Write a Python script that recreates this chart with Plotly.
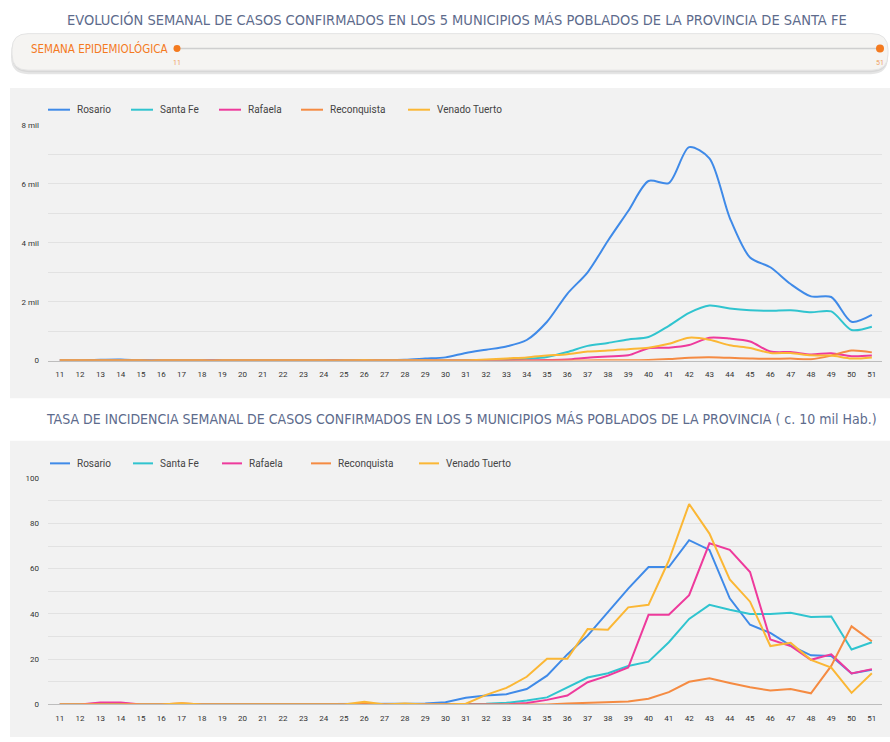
import plotly.graph_objects as go

W, H = 890, 742

weeks = list(range(11, 52))
series_names = ["Rosario", "Santa Fe", "Rafaela", "Reconquista", "Venado Tuerto"]
series_colors = ["#3f8ae8", "#30c4cf", "#ee3a9c", "#f58b42", "#fbb735"]

# Weekly confirmed cases (weeks 11..51)
cases_rosario = [0, 5, 30, 40, 10, 5, 5, 5, 3, 3, 3, 3, 3, 5, 5, 10, 15, 30, 70, 110,
                 260, 370, 480, 700, 1320, 2270, 3000, 4070, 5080, 6100, 6030, 7250,
                 6870, 4850, 3500, 3170, 2600, 2180, 2160, 1320, 1550]
cases_santafe = [0, 0, 2, 2, 0, 0, 0, 0, 0, 0, 0, 0, 0, 0, 0, 0, 0, 2, 3, 5,
                 10, 15, 25, 60, 120, 290, 500, 600, 720, 800, 1180, 1620,
                 1870, 1770, 1710, 1690, 1710, 1640, 1670, 1040, 1150]
cases_rafaela = [0, 0, 5, 5, 0, 0, 0, 0, 0, 0, 0, 0, 0, 0, 0, 0, 0, 0, 0, 0,
                 0, 0, 0, 5, 20, 40, 100, 140, 180, 420, 440, 530,
                 780, 750, 650, 310, 290, 210, 250, 150, 170]
cases_reconquista = [0, 0, 0, 0, 0, 0, 5, 0, 0, 0, 0, 0, 0, 0, 0, 0, 0, 0, 0, 0,
                     0, 0, 0, 0, 0, 5, 7, 13, 13, 25, 55, 100,
                     115, 95, 75, 60, 68, 50, 170, 345, 280]
cases_venado = [0, 0, 0, 0, 0, 0, 3, 0, 0, 0, 0, 0, 0, 0, 0, 10, 0, 3, 0, 0,
                3, 37, 75, 110, 170, 220, 310, 340, 390, 440, 570, 780,
                710, 520, 430, 260, 260, 180, 170, 70, 110]

# Weekly incidence rate per 10 mil inhabitants (weeks 11..51)
inc_rosario = [0, 0, 0.3, 0.4, 0, 0, 0, 0, 0, 0, 0, 0, 0, 0, 0, 0.1, 0.1, 0.3, 0.4, 1.0,
               2.9, 3.9, 4.5, 6.8, 12.7, 22.1, 30.4, 41.0, 51.2, 60.7, 60.7, 72.6,
               68.3, 46.9, 35.2, 31.6, 26.0, 21.7, 21.4, 13.7, 15.3]
inc_santafe = [0, 0, 0, 0, 0, 0, 0, 0, 0, 0, 0, 0, 0, 0, 0, 0, 0, 0, 0, 0,
               0.3, 0.3, 0.7, 1.7, 3.1, 7.6, 11.9, 13.8, 17.0, 18.9, 27.5, 37.8,
               44.0, 41.8, 40.0, 40.0, 40.5, 38.6, 38.9, 24.3, 27.5]
inc_rafaela = [0, 0, 0.8, 0.8, 0, 0, 0, 0, 0, 0, 0, 0, 0, 0, 0, 0, 0, 0, 0, 0,
               0, 0, 0, 0.6, 2.0, 3.9, 9.8, 12.7, 16.3, 39.6, 39.6, 48.3,
               71.2, 68.3, 58.5, 28.7, 25.8, 19.7, 22.1, 13.7, 15.6]
inc_reconquista = [0, 0, 0, 0, 0, 0, 0.5, 0, 0, 0, 0, 0, 0, 0, 0, 0.4, 0, 0, 0, 0,
                   0, 0, 0, 0, 0, 0.4, 0.7, 1.3, 1.3, 2.5, 5.4, 10.0,
                   11.5, 9.5, 7.6, 6.1, 6.8, 4.9, 17.0, 34.5, 27.9]
inc_venado = [0, 0, 0, 0, 0, 0, 0.5, 0, 0, 0, 0, 0, 0, 0, 0, 1.2, 0, 0.4, 0, 0,
              0.3, 4.2, 7.3, 12.2, 20.2, 20.2, 33.3, 33.0, 42.9, 44.0, 63.6, 88.6,
              75.5, 55.2, 45.4, 25.8, 27.2, 19.7, 16.3, 5.1, 13.8]

top_series = [cases_rosario, cases_santafe, cases_rafaela, cases_reconquista, cases_venado]
bottom_series = [inc_rosario, inc_santafe, inc_rafaela, inc_reconquista, inc_venado]

top_ticks = [0, 1000, 2000, 3000, 4000, 5000, 6000, 7000, 8000]
top_ticktext = ["0", "", "2 mil", "", "4 mil", "", "6 mil", "", "8 mil"]
bottom_ticks = [0, 10, 20, 30, 40, 50, 60, 70, 80, 90, 100]
bottom_ticktext = ["0", "", "20", "", "40", "", "60", "", "80", "", "100"]

title_top = "EVOLUCIÓN SEMANAL DE CASOS CONFIRMADOS EN LOS 5 MUNICIPIOS MÁS POBLADOS DE LA PROVINCIA DE SANTA FE"
title_bottom = "TASA DE INCIDENCIA SEMANAL DE CASOS CONFIRMADOS EN LOS 5 MUNICIPIOS MÁS POBLADOS DE LA PROVINCIA ( c. 10 mil Hab.)"
slider_label = "SEMANA EPIDEMIOLÓGICA"


def px(x):
    return x / W


def py(y):
    return 1 - y / H


NARROW = "Liberation Sans Narrow, DejaVu Sans Condensed, Arial Narrow, sans-serif"
TICKFONT = dict(family="Roboto, Arial, sans-serif", size=8, color="#333")
GRID = "#e2e2e2"
ORANGE = "#f47a1f"

fig = go.Figure()

for name, color, vals in zip(series_names, series_colors, top_series):
    fig.add_trace(go.Scatter(x=weeks, y=vals, mode="lines", name=name,
                             line=dict(color=color, width=2, shape="spline", smoothing=0.8),
                             xaxis="x", yaxis="y", showlegend=False, cliponaxis=False))
for name, color, vals in zip(series_names, series_colors, bottom_series):
    fig.add_trace(go.Scatter(x=weeks, y=vals, mode="lines", name=name,
                             line=dict(color=color, width=2),
                             xaxis="x2", yaxis="y2", showlegend=False, cliponaxis=False))

xcommon = dict(range=[10.42, 51.5], tickmode="array", tickvals=weeks,
               ticktext=[str(w) for w in weeks], tickfont=TICKFONT, showgrid=False,
               zeroline=False, showline=True, linecolor="#bdbdbd", linewidth=1,
               ticks="", ticklabelstandoff=6, fixedrange=True)

fig.update_layout(
    width=W, height=H, margin=dict(l=0, r=0, t=0, b=0),
    paper_bgcolor="white", plot_bgcolor="rgba(0,0,0,0)",
    xaxis=dict(domain=[px(48), px(882)], anchor="y", **xcommon),
    yaxis=dict(domain=[py(361), py(122.5)], anchor="x", range=[0, 8000],
               tickmode="array", tickvals=top_ticks, ticktext=top_ticktext,
               tickfont=TICKFONT, gridcolor=GRID, gridwidth=1, zeroline=False,
               showline=False, ticks="", ticklabelstandoff=8, fixedrange=True),
    xaxis2=dict(domain=[px(48), px(882)], anchor="y2", **xcommon),
    yaxis2=dict(domain=[py(709), py(480)], anchor="x2", range=[0, 100],
                tickmode="array", tickvals=bottom_ticks, ticktext=bottom_ticktext,
                tickfont=TICKFONT, gridcolor=GRID, gridwidth=1, zeroline=False,
                showline=False, ticks="", ticklabelstandoff=8, fixedrange=True),
    showlegend=False,
)


def rrect(x0, y0, x1, y1, r):
    return (f"M {px(x0 + r)} {py(y0)} L {px(x1 - r)} {py(y0)} "
            f"Q {px(x1)} {py(y0)} {px(x1)} {py(y0 + r)} "
            f"L {px(x1)} {py(y1 - r)} Q {px(x1)} {py(y1)} {px(x1 - r)} {py(y1)} "
            f"L {px(x0 + r)} {py(y1)} Q {px(x0)} {py(y1)} {px(x0)} {py(y1 - r)} "
            f"L {px(x0)} {py(y0 + r)} Q {px(x0)} {py(y0)} {px(x0 + r)} {py(y0)} Z")


shapes = [
    # panels
    dict(type="rect", xref="paper", yref="paper", x0=px(10), x1=px(890), y0=py(399), y1=py(85),
         fillcolor="#f2f2f2", line=dict(width=0), layer="below"),
    dict(type="rect", xref="paper", yref="paper", x0=px(10), x1=px(890), y0=py(742), y1=py(442),
         fillcolor="#f2f2f2", line=dict(width=0), layer="below"),
    # slider shadow + box
    dict(type="path", xref="paper", yref="paper", path=rrect(11, 33, 888, 71, 17),
         fillcolor="rgba(0,0,0,0.10)", line=dict(width=0), layer="below"),
    dict(type="path", xref="paper", yref="paper", path=rrect(12, 31, 888, 69, 17),
         fillcolor="rgba(0,0,0,0.06)", line=dict(width=0), layer="below"),
    dict(type="path", xref="paper", yref="paper", path=rrect(12, 30, 888, 67, 16),
         fillcolor="#f5f4f2", line=dict(color="#e4e4e4", width=1), layer="below"),
    # slider track
    dict(type="line", xref="paper", yref="paper", x0=px(177), x1=px(880), y0=py(45), y1=py(45),
         line=dict(color="#cfcfcf", width=1.5)),
    dict(type="circle", xref="paper", yref="paper", x0=px(173.5), x1=px(180.5), y0=py(48.5), y1=py(41.5),
         fillcolor=ORANGE, line=dict(width=0)),
    dict(type="circle", xref="paper", yref="paper", x0=px(876), x1=px(884), y0=py(49), y1=py(41),
         fillcolor=ORANGE, line=dict(width=0)),
]

annotations = [
    dict(text=title_top, x=px(457), y=py(16), xref="paper", yref="paper", showarrow=False,
         xanchor="center", yanchor="middle",
         font=dict(family=NARROW, size=14.5, color="#5d6b8c")),
    dict(text=title_bottom, x=px(461), y=py(420), xref="paper", yref="paper", showarrow=False,
         xanchor="center", yanchor="middle",
         font=dict(family=NARROW, size=14, color="#5d6b8c")),
    dict(text=slider_label, x=px(29), y=py(45), xref="paper", yref="paper", showarrow=False,
         xanchor="left", yanchor="middle",
         font=dict(family=NARROW, size=11.5, color=ORANGE)),
    dict(text=str(weeks[0]), x=px(177), y=py(60), xref="paper", yref="paper", showarrow=False,
         xanchor="center", yanchor="middle", font=dict(family="Roboto", size=7, color="#f0a060")),
    dict(text=str(weeks[-1]), x=px(880), y=py(60), xref="paper", yref="paper", showarrow=False,
         xanchor="center", yanchor="middle", font=dict(family="Roboto", size=7, color="#f0a060")),
]

# manual legends
legend_top_x = [48, 131, 219, 301, 408]
legend_bot_x = [50, 133, 222, 311, 419]
for lx_list, ly, seglen in ((legend_top_x, 107, 22), (legend_bot_x, 465, 20)):
    for name, color, lx in zip(series_names, series_colors, lx_list):
        shapes.append(dict(type="line", xref="paper", yref="paper", x0=px(lx), x1=px(lx + seglen),
                           y0=py(ly), y1=py(ly), line=dict(color=color, width=2)))
        annotations.append(dict(text=name, x=px(lx + seglen + 5), y=py(ly), xref="paper", yref="paper",
                                showarrow=False, xanchor="left", yanchor="middle",
                                font=dict(family="Roboto, Arial, sans-serif", size=10, color="#444")))

fig.update_layout(shapes=shapes, annotations=annotations)

fig.write_html("out.html", config={"displayModeBar": False},
               post_script="document.body.style.margin='0';")
